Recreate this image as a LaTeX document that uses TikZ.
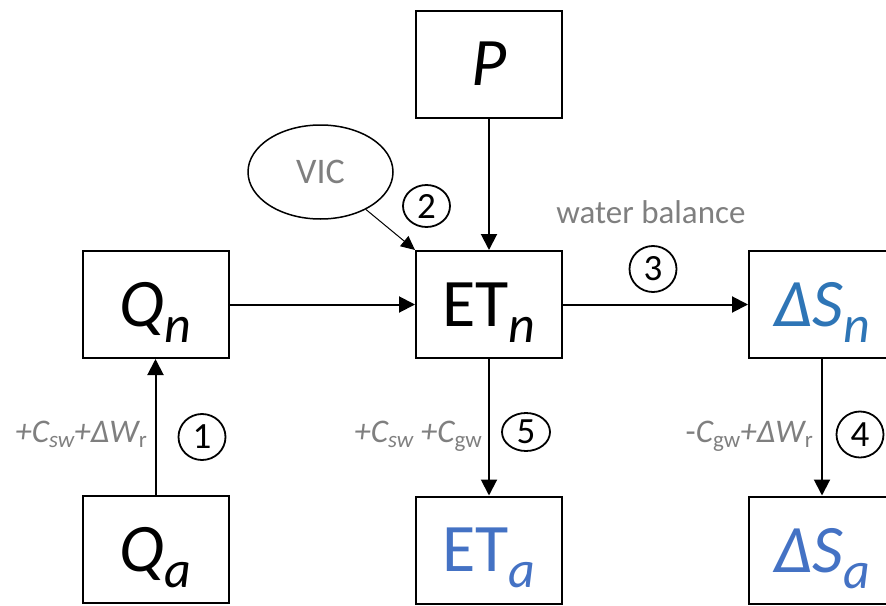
\documentclass[tikz,border=0pt]{standalone}
\usepackage{fontspec}
\setmainfont{Carlito}
\usetikzlibrary{arrows.meta,shapes.geometric}

\definecolor{labelgray}{RGB}{127,127,127}
\definecolor{actualblue}{RGB}{68,114,196}
\definecolor{naturalblue}{RGB}{46,117,182}

% large subscript for the quantities in the boxes
\newcommand\boxsub[1]{\raisebox{-16pt}{\fontsize{52}{52}\selectfont\itshape #1}}
% small subscript for the correction terms
\newcommand\termsub[1]{\raisebox{-5pt}{\fontsize{23}{23}\selectfont #1}}

\begin{document}
\begin{tikzpicture}[x=1pt,y=-1pt,
  quantity/.style={draw, line width=2pt, minimum width=146pt, minimum height=107pt,
    inner sep=0pt, text depth=0pt, font=\fontsize{68}{68}\selectfont},
  flow/.style={line width=2pt, -{Triangle[length=16pt,width=16pt]}},
  stepnum/.style={ellipse, draw, line width=1.8pt, inner sep=0pt,
    minimum width=47pt, minimum height=46pt, font=\fontsize{37}{37}\selectfont},
  term/.style={text=labelgray, inner sep=0pt, font=\fontsize{33}{33}\selectfont}
]
\useasboundingbox (0,0) rectangle (886,605);

% quantities
\node[quantity] (P)   at (489,64)    {\itshape P};
\node[quantity] (Qn)  at (155.5,304.5) {{\itshape Q}\boxsub{n}};
\node[quantity] (ETn) at (489,304.5) {ET\boxsub{n}};
\node[quantity, text=naturalblue] (dSn) at (822,304.5) {{\itshape ΔS}\boxsub{n}};
\node[quantity] (Qa)  at (155.5,549.5) {{\itshape Q}\boxsub{a}};
\node[quantity, text=actualblue] (ETa) at (489,550) {ET\boxsub{a}};
\node[quantity, text=actualblue] (dSa) at (822,550) {{\itshape ΔS}\boxsub{a}};

% model source
\node[ellipse, draw, line width=1.5pt, minimum width=145pt, minimum height=94pt,
  inner sep=0pt, text=labelgray, font=\fontsize{36}{36}\selectfont] (vic) at (320.5,172) {VIC};

% connectors
\draw[flow] (Qa) -- (Qn);
\draw[flow] (Qn) -- (ETn);
\draw[flow] (P) -- (ETn);
\draw[line width=1pt, -{Triangle[length=14pt,width=13pt]}] (vic) -- (ETn.north west);
\draw[flow] (ETn) -- (dSn);
\draw[flow] (ETn) -- (ETa);
\draw[flow] (dSn) -- (dSa);

% step numbers
\node[stepnum] (s1) at (202,437) {1};
\node[stepnum, minimum width=47pt, minimum height=42pt] (s2) at (426.5,206) {2};
\node[stepnum] (s3) at (653,269) {3};
\node[stepnum] (s4) at (860,434.5) {4};
\node[stepnum, minimum width=48pt, minimum height=38pt] (s5) at (526,432) {5};

% annotations
\node[term, anchor=base] (wb) at (651,223) {water balance};
\node[term, anchor=base east] (t1) at (147,442)
  {{\itshape +C}\termsub{\itshape sw}{\itshape +ΔW}\termsub{r}};
\node[term, anchor=base east] (t5) at (482,442)
  {{\itshape +C}\termsub{\itshape sw} {\itshape +C}\termsub{gw}};
\node[term, anchor=base east] (t4) at (813,442)
  {-{\itshape C}\termsub{gw}{\itshape +ΔW}\termsub{r}};
\end{tikzpicture}
\end{document}
